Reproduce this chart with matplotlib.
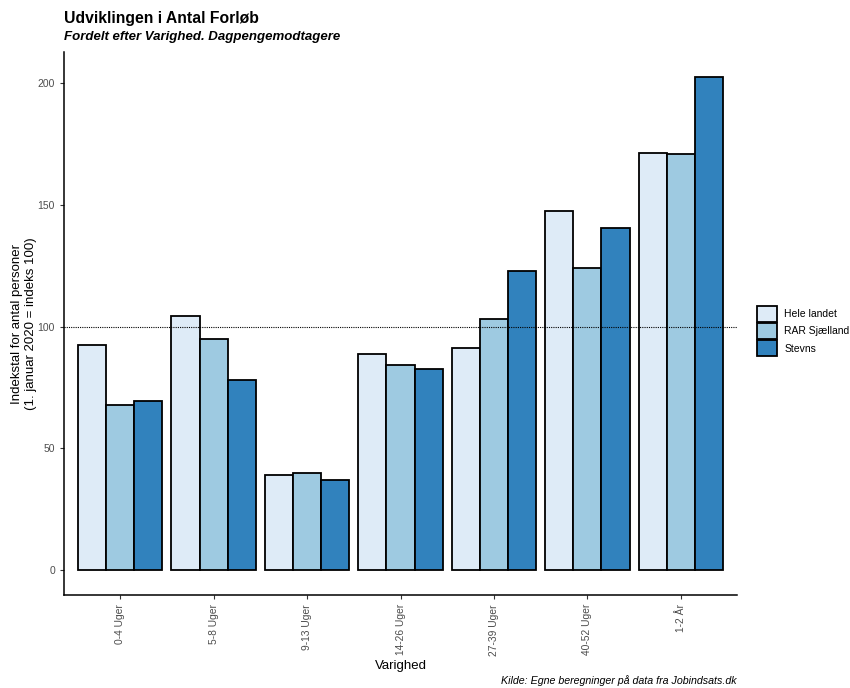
import numpy as np
import matplotlib
matplotlib.use("Agg")
import matplotlib.pyplot as plt
from matplotlib.patches import Patch

plt.rcParams['font.family'] = ['Liberation Sans', 'DejaVu Sans']

categories = ['0-4 Uger', '5-8 Uger', '9-13 Uger', '14-26 Uger', '27-39 Uger', '40-52 Uger', '1-2 År']
series = ['Hele landet', 'RAR Sjælland', 'Stevns']
hele_landet = [92.4, 104.3, 39.3, 88.8, 91.2, 147.2, 171.0]
rar_sjaelland = [67.9, 94.9, 40.1, 84.3, 103.1, 123.9, 170.6]
stevns = [69.5, 78.1, 37.2, 82.6, 122.7, 140.3, 202.5]
colors = ['#DEEBF7', '#9ECAE1', '#3182BD']

fig = plt.figure(figsize=(8.5, 6.88), dpi=100)
ax = fig.add_axes([64/850, 1-595/688, (737-64)/850, (595-52)/688])

x = np.arange(1, len(categories) + 1)
w = 0.3
for i, (vals, c) in enumerate(zip([hele_landet, rar_sjaelland, stevns], colors)):
    ax.bar(x + (i - 1) * w, vals, width=w, color=c, edgecolor='black', linewidth=1.3, zorder=2)

ax.axhline(100, color='black', linestyle=(0, (1, 1)), linewidth=0.8, zorder=3)

ax.set_xlim(0.4, 7.6)
ax.set_ylim(-10.1, 212.6)
ax.set_xticks(x)
ax.set_xticklabels(categories, rotation=90, fontsize=7.4, color='#4D4D4D')
ax.set_yticks([0, 50, 100, 150, 200])
ax.tick_params(axis='y', labelsize=7.5, labelcolor='#4D4D4D', length=3, color='#333333')
ax.tick_params(axis='x', length=3, color='#333333')
for s in ['top', 'right']:
    ax.spines[s].set_visible(False)
for s in ['left', 'bottom']:
    ax.spines[s].set_linewidth(1.1)

ax.set_xlabel('Varighed', fontsize=9.5)
ax.xaxis.set_label_coords(0.5, -0.12)
ax.set_ylabel('Indekstal for antal personer\n(1. januar 2020 = indeks 100)', fontsize=9.5)
ax.yaxis.set_label_coords(-0.040, 0.5)

fig.text(64/850, 1-18/688, 'Udviklingen i Antal Forløb', fontsize=11.3, fontweight='bold', va='center')
fig.text(64/850, 1-37/688, 'Fordelt efter Varighed. Dagpengemodtagere', fontsize=9.5, fontweight='bold',
         fontstyle='italic', va='center')
fig.text(737/850, 1-681/688, 'Kilde: Egne beregninger på data fra Jobindsats.dk', fontsize=7.7,
         fontstyle='italic', ha='right', va='center')

handles = [Patch(facecolor=c, edgecolor='black', linewidth=1.3, label=s) for c, s in zip(colors, series)]
fig.legend(handles=handles, loc='center left', bbox_to_anchor=(757/850, 1-331/688), frameon=False,
           fontsize=7.5, handlelength=1.9, handleheight=1.95, labelspacing=0.15, handletextpad=0.7,
           borderpad=0, borderaxespad=0)

fig.savefig('out.png', dpi=100)
